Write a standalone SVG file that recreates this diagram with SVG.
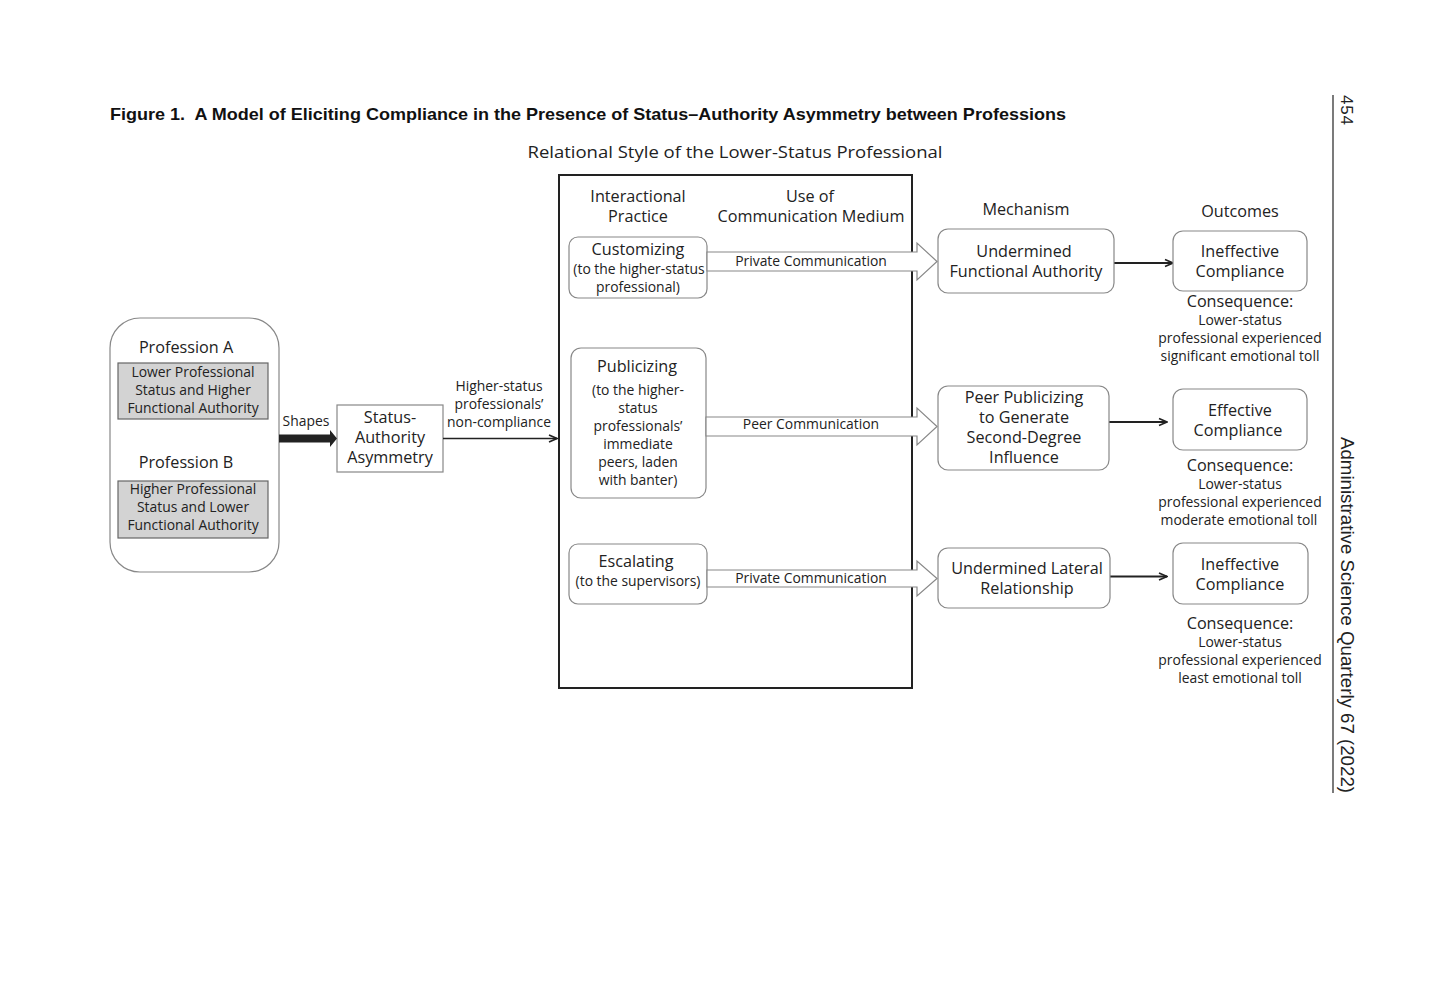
<svg xmlns="http://www.w3.org/2000/svg" width="1440" height="1008" viewBox="0 0 1440 1008">
<defs>
<style>
text{font-family:"Open Sans","Liberation Sans",Arial,sans-serif;fill:#222;}
.t16{font-size:16.2px;text-anchor:middle;}
.t13{font-size:13.9px;text-anchor:middle;}
.rb{fill:#fff;stroke:#888;stroke-width:1.2;}
.gb{fill:#d3d3d3;stroke:#666;stroke-width:1.2;}
.blk{fill:#fff;stroke:#888;stroke-width:1.2;}
.ln{stroke:#222;stroke-width:1.8;fill:none;}
</style>
<marker id="ah" markerWidth="10" markerHeight="10" refX="9" refY="5" orient="auto" markerUnits="userSpaceOnUse">
<path d="M1,1.5 L9,5 L1,8.5" fill="none" stroke="#222" stroke-width="1.6"/>
</marker>
</defs>
<rect width="1440" height="1008" fill="#fff"/>

<text x="110" y="120" textLength="956" lengthAdjust="spacingAndGlyphs" style="font-family:'Liberation Sans',Arial,sans-serif;font-size:17px;font-weight:bold;fill:#111">Figure 1.&#160; A Model of Eliciting Compliance in the Presence of Status–Authority Asymmetry between Professions</text>
<text x="735" y="158" textLength="415" lengthAdjust="spacingAndGlyphs" style="font-size:17px;text-anchor:middle">Relational Style of the Lower-Status Professional</text>

<g id="practice-frame">
<rect x="559" y="175" width="353" height="513" fill="none" stroke="#222" stroke-width="2"/>
<text class="t16" x="638" y="202">Interactional</text>
<text class="t16" x="638" y="222">Practice</text>
<text class="t16" x="810" y="202">Use of</text>
<text class="t16" x="811" y="222">Communication Medium</text>
</g>

<g id="professions">
<rect class="rb" x="110" y="318" width="169" height="254" rx="30"/>
<text class="t16" x="186" y="353">Profession A</text>
<rect class="gb" x="118" y="363" width="150" height="56"/>
<text class="t13" x="193" y="377">Lower Professional</text>
<text class="t13" x="193" y="395">Status and Higher</text>
<text class="t13" x="193" y="413">Functional Authority</text>
<text class="t16" x="186" y="468">Profession B</text>
<rect class="gb" x="118" y="481" width="150" height="57"/>
<text class="t13" x="193" y="494">Higher Professional</text>
<text class="t13" x="193" y="512">Status and Lower</text>
<text class="t13" x="193" y="530">Functional Authority</text>
</g>

<g id="asymmetry">
<rect x="337" y="405" width="106" height="67" fill="#fff" stroke="#888" stroke-width="1.2"/>
<text class="t16" x="390" y="423">Status-</text>
<text class="t16" x="390" y="443">Authority</text>
<text class="t16" x="390" y="463">Asymmetry</text>
</g>

<g id="customizing">
<rect class="rb" x="569" y="237" width="138" height="61" rx="9"/>
<text class="t16" x="638" y="255">Customizing</text>
<text class="t13" x="639" y="274">(to the higher-status</text>
<text class="t13" x="638" y="292">professional)</text>
</g>

<g id="publicizing">
<rect class="rb" x="571" y="348" width="135" height="150" rx="10"/>
<text class="t16" x="637" y="372">Publicizing</text>
<text class="t13" x="638" y="395">(to the higher-</text>
<text class="t13" x="638" y="413">status</text>
<text class="t13" x="638" y="431">professionals’</text>
<text class="t13" x="638" y="449">immediate</text>
<text class="t13" x="638" y="467">peers, laden</text>
<text class="t13" x="638" y="485">with banter)</text>
</g>

<g id="escalating">
<rect class="rb" x="569" y="544" width="138" height="60" rx="9"/>
<text class="t16" x="636" y="567">Escalating</text>
<text class="t13" x="638" y="586">(to the supervisors)</text>
</g>

<g id="connectors">
<path d="M279,434.5 L330,434.5 L330,430 L337,438.5 L330,447 L330,442.5 L279,442.5 Z" fill="#222"/>
<text x="306" y="426" style="font-size:13.9px;text-anchor:middle">Shapes</text>
<line class="ln" x1="443" y1="438.5" x2="557" y2="438.5" marker-end="url(#ah)" style="stroke-width:1.4"/>
<text class="t13" x="499" y="391">Higher-status</text>
<text class="t13" x="499" y="409">professionals’</text>
<text class="t13" x="499" y="427">non-compliance</text>

<path class="blk" d="M707,252 L917,252 L917,243 L937,261.5 L917,280 L917,271 L707,271 Z"/>
<text class="t13" x="811" y="266">Private Communication</text>
<path class="blk" d="M706,417 L917,417 L917,408 L937,426.5 L917,445 L917,436 L706,436 Z"/>
<text class="t13" x="811" y="429">Peer Communication</text>
<path class="blk" d="M707,570 L917,570 L917,561 L937,578.5 L917,596 L917,587 L707,587 Z"/>
<text class="t13" x="811" y="583">Private Communication</text>

<line class="ln" x1="1114" y1="263" x2="1173" y2="263" marker-end="url(#ah)"/>
<line class="ln" x1="1109" y1="422" x2="1167" y2="422" marker-end="url(#ah)"/>
<line class="ln" x1="1110" y1="576.5" x2="1167" y2="576.5" marker-end="url(#ah)"/>
</g>

<text class="t16" x="1026" y="215">Mechanism</text>
<text class="t16" x="1240" y="217">Outcomes</text>

<g id="mech-authority">
<rect class="rb" x="938" y="229" width="176" height="64" rx="10"/>
<text class="t16" x="1024" y="257">Undermined</text>
<text class="t16" x="1026" y="277">Functional Authority</text>
</g>
<g id="mech-peer">
<rect class="rb" x="938" y="386" width="171" height="84" rx="10"/>
<text class="t16" x="1024" y="403">Peer Publicizing</text>
<text class="t16" x="1024" y="423">to Generate</text>
<text class="t16" x="1024" y="443">Second-Degree</text>
<text class="t16" x="1024" y="463">Influence</text>
</g>
<g id="mech-lateral">
<rect class="rb" x="938" y="548" width="172" height="60" rx="10"/>
<text class="t16" x="1027" y="574">Undermined Lateral</text>
<text class="t16" x="1027" y="594">Relationship</text>
</g>

<g id="outcome-1">
<rect class="rb" x="1173" y="231" width="134" height="60" rx="10"/>
<text class="t16" x="1240" y="257">Ineffective</text>
<text class="t16" x="1240" y="277">Compliance</text>
<text class="t16" x="1240" y="307">Consequence:</text>
<text class="t13" x="1240" y="325">Lower-status</text>
<text class="t13" x="1240" y="343">professional experienced</text>
<text class="t13" x="1240" y="361">significant emotional toll</text>
</g>
<g id="outcome-2">
<rect class="rb" x="1173" y="389" width="134" height="61" rx="10"/>
<text class="t16" x="1240" y="416">Effective</text>
<text class="t16" x="1238" y="436">Compliance</text>
<text class="t16" x="1240" y="471">Consequence:</text>
<text class="t13" x="1240" y="489">Lower-status</text>
<text class="t13" x="1240" y="507">professional experienced</text>
<text class="t13" x="1239" y="525">moderate emotional toll</text>
</g>
<g id="outcome-3">
<rect class="rb" x="1173" y="543" width="135" height="61" rx="10"/>
<text class="t16" x="1240" y="570">Ineffective</text>
<text class="t16" x="1240" y="590">Compliance</text>
<text class="t16" x="1240" y="629">Consequence:</text>
<text class="t13" x="1240" y="647">Lower-status</text>
<text class="t13" x="1240" y="665">professional experienced</text>
<text class="t13" x="1240" y="683">least emotional toll</text>
</g>

<line x1="1333" y1="95" x2="1333" y2="793" stroke="#222" stroke-width="1.2"/>
<text transform="translate(1341,95) rotate(90)" textLength="30" style="font-family:'Liberation Sans',Arial,sans-serif;font-size:17px">454</text>
<text transform="translate(1341,437) rotate(90)" textLength="356" lengthAdjust="spacingAndGlyphs" style="font-family:'Liberation Sans',Arial,sans-serif;font-size:17.5px">Administrative Science Quarterly 67 (2022)</text>
</svg>
